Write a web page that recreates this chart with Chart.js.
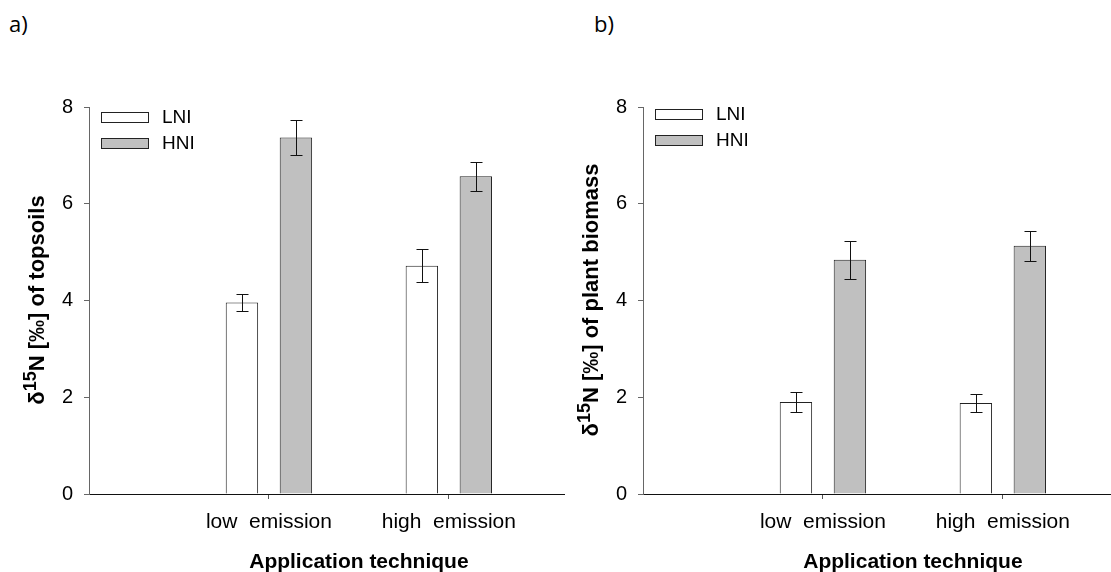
<!DOCTYPE html>
<html>
<head>
<meta charset="utf-8">
<script src="https://cdn.jsdelivr.net/npm/chart.js@4.4.1/dist/chart.umd.min.js"></script>
<style>
  html, body { margin: 0; padding: 0; background: #fff; }
  #wrap { position: relative; width: 1111px; height: 572px; overflow: hidden; background: #fff; }
  canvas { position: absolute; top: 0; }
  .plab { position: absolute; top: 8px; font-family: "Open Sans", "Liberation Sans", sans-serif; font-size: 22px; color: #000; }
</style>
</head>
<body>
<div id="wrap">
  <div class="plab" style="left:9px;">a)</div>
  <div class="plab" style="left:594px;">b)</div>
  <canvas id="chartA" width="580" height="572" style="left:0px;"></canvas>
  <canvas id="chartB" width="580" height="572" style="left:554px;"></canvas>
</div>
<script>
// ---------- data ----------
const categories = ['low  emission', 'high  emission'];
const categoryPositions = [1, 2];
const seriesNames = ['LNI', 'HNI'];
const yTicks = [0, 2, 4, 6, 8];

const topsoilLNI = [3.96, 4.72];
const topsoilLNIErr = [0.18, 0.34];
const topsoilHNI = [7.37, 6.57];
const topsoilHNIErr = [0.37, 0.30];

const biomassLNI = [1.90, 1.88];
const biomassLNIErr = [0.20, 0.18];
const biomassHNI = [4.84, 5.13];
const biomassHNIErr = [0.40, 0.31];

const xAxisTitle = 'Application technique';
const yTitleA = ['δ', '15', 'N [‰] of topsoils'];
const yTitleB = ['δ', '15', 'N [‰] of plant biomass'];

// ---------- helpers ----------
const FONT = '"Liberation Sans", Arial, Helvetica, sans-serif';

function points(vals) {
  return vals.map((v, i) => ({ x: categoryPositions[i], y: v }));
}

const errorBarPlugin = {
  id: 'errorBars',
  afterDatasetsDraw(chart) {
    const ctx = chart.ctx;
    const ys = chart.scales.y;
    ctx.save();
    ctx.strokeStyle = '#111';
    ctx.lineWidth = 1;
    chart.data.datasets.forEach((ds, di) => {
      const meta = chart.getDatasetMeta(di);
      meta.data.forEach((el, i) => {
        const v = ds.data[i].y, e = ds.errors[i];
        const x = Math.round(el.x) + 0.5;
        const yt = Math.round(ys.getPixelForValue(v + e)) + 0.5;
        const yb = Math.round(ys.getPixelForValue(v - e)) + 0.5;
        const cap = 6;
        ctx.beginPath();
        ctx.moveTo(x, yt); ctx.lineTo(x, yb);
        ctx.moveTo(x - cap, yt); ctx.lineTo(x + cap, yt);
        ctx.moveTo(x - cap, yb); ctx.lineTo(x + cap, yb);
        ctx.stroke();
      });
    });
    ctx.restore();
  }
};

const decorPlugin = {
  id: 'decor',
  afterDraw(chart, args, opts) {
    const ctx = chart.ctx;
    const xs = chart.scales.x;
    const ca = chart.chartArea;
    ctx.save();
    ctx.fillStyle = '#000';

    // x title centred between the categories
    const mid = (categoryPositions[0] + categoryPositions[categoryPositions.length - 1]) / 2;
    ctx.font = 'bold 21px ' + FONT;
    ctx.textAlign = 'center';
    ctx.textBaseline = 'middle';
    ctx.fillText(xAxisTitle, xs.getPixelForValue(mid), opts.xTitleY);

    // y title with superscript
    const parts = opts.yTitle;
    const sizes = [22, 18, 22];
    const rises = [0, 8, 0];
    let total = 0;
    const widths = parts.map((t, i) => {
      ctx.font = 'bold ' + sizes[i] + 'px ' + FONT;
      const w = ctx.measureText(t).width;
      total += w;
      return w;
    });
    ctx.translate(opts.yTitleX, opts.yTitleCenter);
    ctx.rotate(-Math.PI / 2);
    ctx.textAlign = 'left';
    ctx.textBaseline = 'alphabetic';
    let x = -total / 2;
    parts.forEach((t, i) => {
      ctx.font = 'bold ' + sizes[i] + 'px ' + FONT;
      ctx.fillText(t, x, -rises[i]);
      x += widths[i];
    });
    ctx.setTransform(1, 0, 0, 1, 0, 0);

    // legend
    ctx.font = '19px ' + FONT;
    ctx.textAlign = 'left';
    ctx.textBaseline = 'middle';
    chart.data.datasets.forEach((ds, i) => {
      const bx = ca.left + 12, by = ca.top + opts.legendTop + i * 26;
      ctx.fillStyle = ds.backgroundColor;
      ctx.fillRect(bx, by, 48, 11);
      ctx.strokeStyle = ds.borderColor;
      ctx.lineWidth = 1;
      ctx.strokeRect(bx + 0.5, by + 0.5, 47, 10);
      ctx.fillStyle = '#000';
      ctx.fillText(ds.label, bx + 61, by + 6);
    });
    ctx.restore();
  }
};

function makeChart(id, lni, lniErr, hni, hniErr, yTitle, legendTop) {
  return new Chart(document.getElementById(id), {
    type: 'bar',
    data: {
      datasets: [
        { label: seriesNames[0], data: points(lni), errors: lniErr,
          backgroundColor: '#ffffff', borderColor: '#222', borderWidth: 1 },
        { label: seriesNames[1], data: points(hni), errors: hniErr,
          backgroundColor: '#c0c0c0', borderColor: '#222', borderWidth: 1 }
      ]
    },
    options: {
      responsive: false,
      animation: false,
      events: [],
      categoryPercentage: 0.6,
      barPercentage: 0.6,
      layout: { padding: { left: 0, top: 107, right: 16, bottom: 0 } },
      plugins: {
        legend: { display: false },
        tooltip: { enabled: false },
        decor: { xTitleY: 562, yTitle: yTitle, yTitleX: 44, yTitleCenter: 300, legendTop: legendTop }
      },
      scales: {
        x: {
          type: 'linear',
          offset: false,
          min: 0,
          max: 2.64,
          afterBuildTicks(scale) { scale.ticks = categoryPositions.map(v => ({ value: v })); },
          afterFit(scale) { scale.height = 78; },
          ticks: {
            autoSkip: false,
            maxRotation: 0,
            padding: 11,
            color: '#000',
            font: { family: FONT, size: 21 },
            callback: (v) => categories[categoryPositions.indexOf(v)]
          },
          grid: { offset: false, drawOnChartArea: false, drawTicks: true, tickLength: 5, color: '#555' },
          border: { display: true, color: '#111', width: 1 }
        },
        y: {
          min: 0,
          max: 8,
          afterBuildTicks(scale) { scale.ticks = yTicks.map(v => ({ value: v })); },
          afterFit(scale) { scale.width = 89; },
          ticks: {
            padding: 11,
            color: '#000',
            font: { family: FONT, size: 20 }
          },
          grid: { drawOnChartArea: false, drawTicks: true, tickLength: 5, color: '#666' },
          border: { display: true, color: '#666', width: 1 }
        }
      }
    },
    plugins: [errorBarPlugin, decorPlugin]
  });
}

makeChart('chartA', topsoilLNI, topsoilLNIErr, topsoilHNI, topsoilHNIErr, yTitleA, 5);
makeChart('chartB', biomassLNI, biomassLNIErr, biomassHNI, biomassHNIErr, yTitleB, 2);
</script>
</body>
</html>
